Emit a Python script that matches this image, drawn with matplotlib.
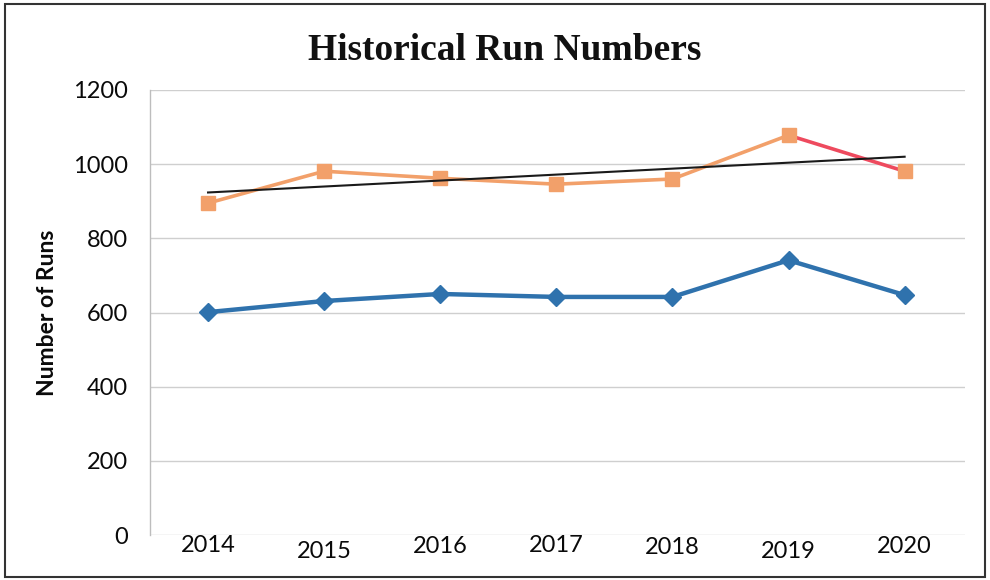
import matplotlib
matplotlib.use("Agg")
import matplotlib.pyplot as plt
import matplotlib.transforms as mtransforms
import numpy as np
from matplotlib.patches import Rectangle

years = ["2014", "2015", "2016", "2017", "2018", "2019", "2020"]
total_runs = [895, 981, 962, 946, 960, 1078, 981]
other_runs = [601, 631, 650, 642, 642, 741, 647]
y_ticks = [0, 200, 400, 600, 800, 1000, 1200]
# small vertical offsets of each year label (pixels)
label_drop = [0, 6, 1, 0, 2, 6, 1]

fig = plt.figure(figsize=(9.9, 5.8), dpi=100)
ax = fig.add_axes([150 / 990, 1 - 535 / 580, 815 / 990, 445 / 580])

x = np.arange(len(years))
orange = "#f2a06a"
red = "#ee4a5e"
blue = "#2f72ad"

ax.set_xlim(-0.5, 6.52)
ax.set_ylim(0, 1200)
ax.set_yticks(y_ticks)
ax.grid(axis="y", color="#cfcfcf", linewidth=1.0)
ax.set_axisbelow(True)
for side in ["top", "right", "bottom"]:
    ax.spines[side].set_visible(False)
ax.spines["left"].set_color("#bdbdbd")
ax.spines["left"].set_linewidth(1.0)

# blue series
ax.plot(x, other_runs, color=blue, linewidth=3.2, marker="D",
        markersize=9, markerfacecolor=blue, markeredgecolor=blue, zorder=4)

# orange series, last segment drawn in red
ax.plot(x[:-1], total_runs[:-1], color=orange, linewidth=2.6, zorder=3)
ax.plot(x[-2:], total_runs[-2:], color=red, linewidth=2.6, zorder=3)
ax.plot(x, total_runs, linestyle="none", marker="s", markersize=10.5,
        markerfacecolor=orange, markeredgecolor=orange, zorder=4)

# linear trend of the orange series
coef = np.polyfit(x, total_runs, 1)
ax.plot(x, np.polyval(coef, x), color="#1a1a1a", linewidth=1.5, zorder=5)

ax.set_xticks(x)
ax.set_xticklabels(years)
ax.tick_params(axis="both", length=0, labelsize=17, labelcolor="#0a0a0a")
ax.tick_params(axis="x", pad=0)
ax.tick_params(axis="y", pad=16)
for lab, d in zip(ax.get_xticklabels(), label_drop):
    lab.set_fontfamily("Lato")
    lab.set_transform(lab.get_transform() + mtransforms.ScaledTranslation(
        0, -d / 100, fig.dpi_scale_trans))
for lab in ax.get_yticklabels():
    lab.set_fontfamily("Lato")

ax.set_ylabel("Number of Runs", fontsize=16.5, fontweight="bold",
              fontfamily="Lato", color="#0a0a0a")
ax.yaxis.set_label_coords(-92 / 815, 0.50)

fig.text(0.51, 1 - 50 / 580, "Historical Run Numbers", ha="center", va="center",
         fontsize=27, fontweight="bold", fontfamily="Liberation Serif",
         color="#111111")

# outer frame
fig.patches.append(Rectangle((5 / 990, 3 / 580), 980 / 990, 573 / 580,
                             transform=fig.transFigure, fill=False,
                             edgecolor="#333333", linewidth=1.5))

fig.savefig("out.png", dpi=100)
